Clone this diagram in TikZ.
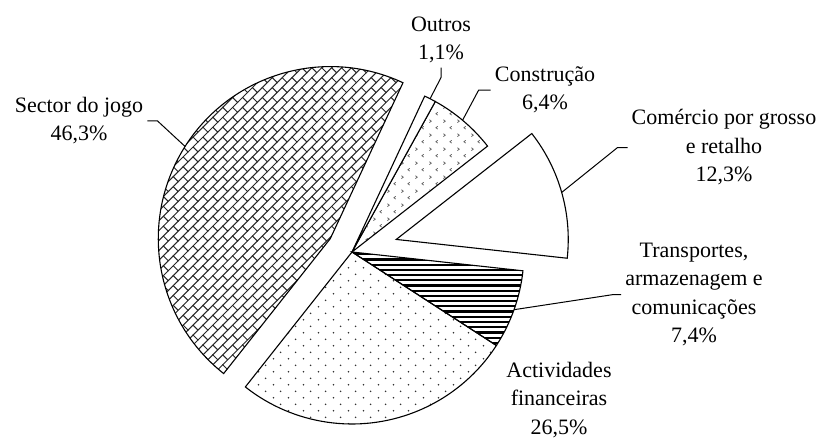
\documentclass[tikz,border=0pt]{standalone}
\usepackage{fontspec}
\setmainfont{Liberation Serif}
\usetikzlibrary{calc,patterns.meta}
\tikzdeclarepattern{name=bricks,type=uncolored,
  bounding box={(-1pt,-1pt) and (15pt,15pt)},tile size={(14pt,14pt)},
  tile transformation={rotate=45},
  code={\draw[line width=1pt] (-0.5pt,0pt) -- (14.5pt,0pt) (-0.5pt,7pt) -- (14.5pt,7pt) (0pt,0pt) -- (0pt,7pt) (7pt,7pt) -- (7pt,14pt);}}
\tikzdeclarepattern{name=dots,type=uncolored,
  bounding box={(0pt,0pt) and (15pt,13.4pt)},tile size={(15pt,13.4pt)},
  code={\fill (3.75pt,3.35pt) circle[radius=0.9pt] (11.25pt,10.05pt) circle[radius=0.9pt];}}
\tikzdeclarepattern{name=hlines,type=uncolored,
  bounding box={(-1pt,0pt) and (6pt,5.2pt)},tile size={(5pt,5.2pt)},
  code={\fill (-1pt,1.5pt) rectangle (6pt,3.7pt);}}
\tikzdeclarepattern{name=divots,type=uncolored,
  bounding box={(0pt,0pt) and (14pt,14pt)},tile size={(14pt,14pt)},
  code={\draw[line width=.8pt] (4pt,2pt) -- (2pt,3.5pt) -- (4pt,5pt) (10pt,9pt) -- (12pt,10.5pt) -- (10pt,12pt);}}
\begin{document}
\begin{tikzpicture}[x=1pt,y=1pt,
  slice/.style={draw=black,line width=1.1pt},
  jogo/.style={pattern=bricks,pattern color=black!85},
  fin/.style={pattern=dots,pattern color=black!80},
  trans/.style={pattern=hlines,pattern color=black},
  com/.style={fill=white},
  cons/.style={pattern=divots,pattern color=black!60},
  outros/.style={fill=white},
  lbl/.style={font=\fontsize{22}{28.5}\selectfont,align=center,anchor=base,inner sep=4pt},
  leader/.style={line width=1pt}]
\useasboundingbox (0,0) rectangle (821,439);
\pgfmathsetmacro\r{172}
\coordinate (c) at (352,187);
\coordinate (cj) at ($(c)+(148.34:25.5)$);
\coordinate (cc) at ($(c)+(15.86:46)$);
\foreach \a/\b/\o/\s in {65/231.68/cj/jogo,-128.32/-32.92/c/fin,-32.92/-6.28/c/trans,-6.28/38/cc/com,38/61.04/c/cons,61.04/65/c/outros}
  \draw[slice,\s] (\o) -- ++(\a:\r) arc[start angle=\a,end angle=\b,radius=\r] -- cycle;
\coordinate (pjogo) at ($(cj)+(147.6:\r)$);
\coordinate (pout) at ($(c)+(63:\r)$);
\coordinate (pcons) at ($(c)+(50:\r)$);
\coordinate (pcom) at ($(cc)+(15.86:\r)$);
\coordinate (ptrans) at ($(c)+(-19.6:\r)$);
\node[lbl] (ljogo) at (79,298) {Sector do jogo\\46,3\%};
\node[lbl] (lout) at (441,379) {Outros\\1,1\%};
\node[lbl] (lcons) at (545,329) {Construção\\6,4\%};
\node[lbl] (lcom) at (724,257) {Comércio por grosso\\e retalho\\12,3\%};
\node[lbl] (ltrans) at (694,96) {Transportes,\\armazenagem e\\comunicações\\7,4\%};
\node[lbl] (lfin) at (559,5) {Actividades\\financeiras\\26,5\%};
\draw[leader] (ljogo.east) -- ++(10,0) -- (pjogo);
\draw[leader] (lout.south) -- ++(0,-10) -- (pout);
\draw[leader] (lcons.west) -- ++(-12,0) -- (pcons);
\draw[leader] (lcom.west) -- ++(-10,0) -- (pcom);
\draw[leader] (ltrans.west) -- ++(-9,0) -- (ptrans);
\end{tikzpicture}
\end{document}
